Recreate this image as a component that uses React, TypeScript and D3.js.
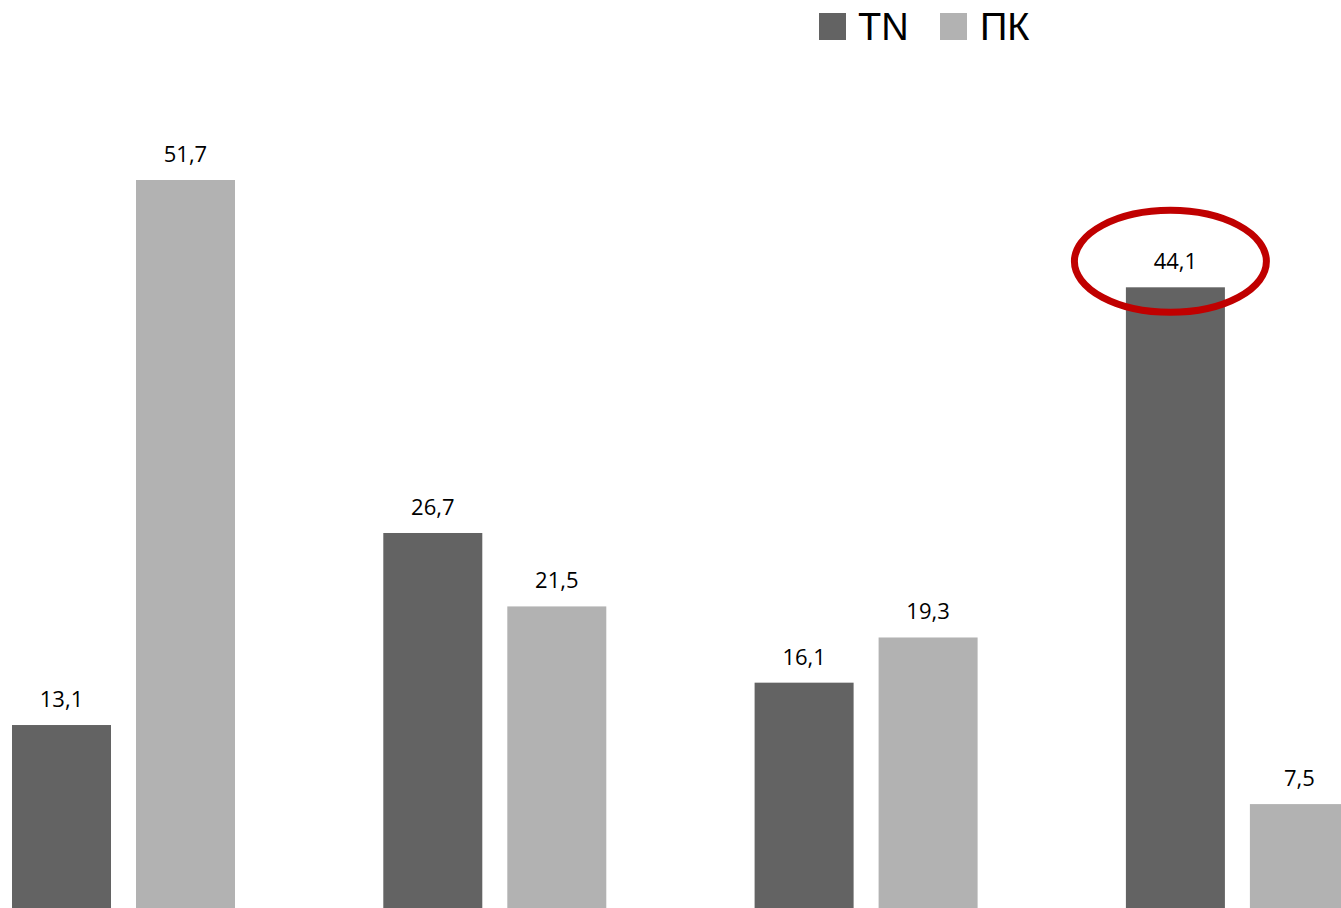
import React from "react";
import * as d3 from "d3";

const categories = ["Группа 1", "Группа 2", "Группа 3", "Группа 4"];
const seriesNames = ["TN", "ПК"];
const tnValues = [13.1, 26.7, 16.1, 44.1];
const pkValues = [51.7, 21.5, 19.3, 7.5];
const colors = ["#636363", "#B2B2B2"];
const highlightIndex = 3;

const W = 1341;
const H = 908;

export default function App() {
  const x0 = d3.scaleBand<string>().domain(categories).range([-62, -62 + 4 * 371.3]).padding(0);
  const x1 = d3.scaleBand<string>().domain(seriesNames).range([74, 297]).paddingInner(0.2016).paddingOuter(0);
  const y = d3.scaleLinear().domain([0, 60]).range([910, 910 - 60 * 14.12]);
  const fmt = (v: number) => v.toFixed(1).replace(".", ",");
  const values = [tnValues, pkValues];
  const font = "'Open Sans', 'Noto Sans', sans-serif";
  const legendFont = "'Liberation Sans', Arial, sans-serif";

  return (
    <svg width={W} height={H} style={{ position: "absolute", left: 0, top: 0 }} fontFamily={font}>
      <rect width={W} height={H} fill="#ffffff" />
      {categories.map((c, i) => (
        <g key={c} transform={`translate(${x0(c)},0)`}>
          {seriesNames.map((s, j) => {
            const v = values[j][i];
            const bx = x1(s)!;
            const bw = x1.bandwidth();
            return (
              <g key={s}>
                <rect x={bx} y={y(v)} width={bw} height={y(0) - y(v)} fill={colors[j]} />
                <text x={bx + bw / 2} y={y(v) - 18} textAnchor="middle" fontSize={22} fill="#000">
                  {fmt(v)}
                </text>
              </g>
            );
          })}
        </g>
      ))}
      {(() => {
        const c = categories[highlightIndex];
        const bx = x0(c)! + x1("TN")! + x1.bandwidth() / 2;
        const by = y(tnValues[highlightIndex]) - 26;
        return <ellipse cx={bx - 5} cy={by} rx={96} ry={51} fill="none" stroke="#C00000" strokeWidth={7} />;
      })()}
      <g fontFamily={legendFont}>
        <rect x={819} y={13} width={27} height={27} fill={colors[0]} />
        <text x={858} y={40} fontSize={38} fill="#000">{seriesNames[0]}</text>
        <rect x={940} y={13} width={27} height={27} fill={colors[1]} />
        <text x={980} y={40} fontSize={38} fill="#000">{seriesNames[1]}</text>
      </g>
    </svg>
  );
}
